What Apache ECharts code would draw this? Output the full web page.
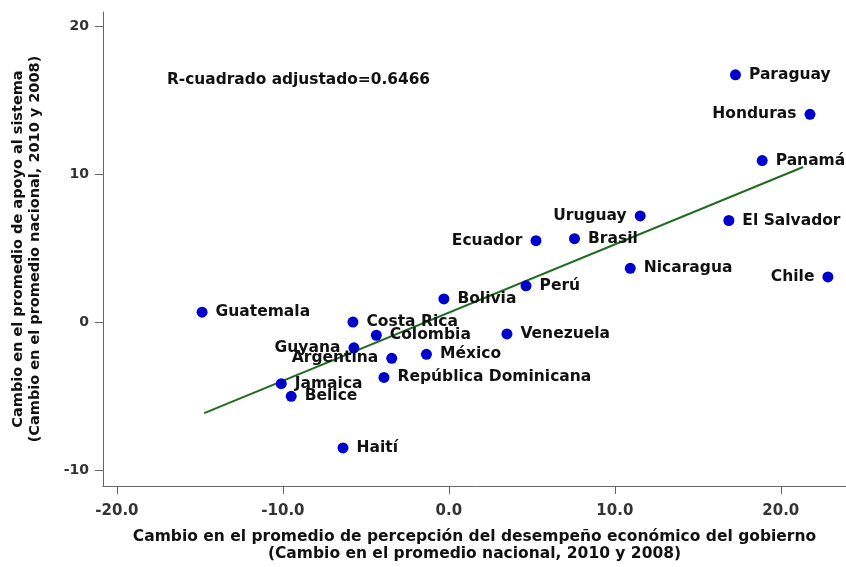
<!DOCTYPE html>
<html>
<head>
<meta charset="utf-8">
<script src="https://cdn.jsdelivr.net/npm/echarts@6/dist/echarts.min.js"></script>
<style>
html,body{margin:0;padding:0;background:#fff;}
#chart{width:846px;height:567px;}
</style>
</head>
<body>
<div id="chart"></div>
<script>
// ---- data ----
const countries = ['Paraguay','Honduras','Panamá','Uruguay','El Salvador','Ecuador','Brasil','Nicaragua','Chile','Perú','Bolivia','Venezuela','Guatemala','Costa Rica','Colombia','Guyana','México','Argentina','República Dominicana','Jamaica','Belice','Haití'];
const econChange = [17.27, 21.76, 18.88, 11.53, 16.87, 5.25, 7.57, 10.93, 22.84, 4.65, -0.30, 3.50, -14.87, -5.78, -4.37, -5.72, -1.35, -3.44, -3.91, -10.10, -9.50, -6.38];
const supportChange = [16.70, 14.03, 10.91, 7.17, 6.86, 5.50, 5.63, 3.63, 3.05, 2.45, 1.56, -0.80, 0.67, 0.00, -0.89, -1.74, -2.18, -2.45, -3.74, -4.16, -5.01, -8.50];
const fitX = [-14.74, 21.35];
const fitY = [-6.15, 10.47];
const xTicks = [-20, -10, 0, 10, 20];
const yTicks = [-10, 0, 10, 20];
const rSquaredLabel = 'R-cuadrado adjustado=0.6466';
const xTitle = 'Cambio en el promedio de percepción del desempeño económico del gobierno\n(Cambio en el promedio nacional, 2010 y 2008)';
const yTitle = 'Cambio en el promedio de apoyo al sistema\n(Cambio en el promedio nacional, 2010 y 2008)';

// ---- label placement (style config) ----
const leftLabels = ['Honduras','Uruguay','Ecuador','Chile','Guyana','Argentina'];

const FONT = 'DejaVu Sans';
const chart = echarts.init(document.getElementById('chart'), null, {renderer:'canvas'});

const scatterData = countries.map((n, i) => {
  const item = { value: [econChange[i], supportChange[i]], name: n };
  if (leftLabels.includes(n)) item.label = { position: 'left' };
  return item;
});

const axisCol = '#666';
chart.setOption({
  backgroundColor: '#fff',
  animation: false,
  grid: { left: 103, right: 0, top: 12, bottom: 76, containLabel: false },
  xAxis: {
    type: 'value', min: -20.84, max: 23.93,
    splitLine: { show: false },
    axisLine: { show: true, onZero: false, lineStyle: { color: axisCol, width: 1 } },
    axisTick: { show: true, length: 8, customValues: xTicks, lineStyle: { color: axisCol } },
    axisLabel: { customValues: xTicks, margin: 18, color: '#333', fontFamily: FONT, fontWeight: 'bold', fontSize: 15,
      formatter: v => v.toFixed(1) },
    name: xTitle, nameLocation: 'middle', nameGap: 42,
    nameTextStyle: { color: '#111', fontFamily: FONT, fontWeight: 'bold', fontSize: 15.5, lineHeight: 17 }
  },
  yAxis: {
    type: 'value', min: -11.07, max: 20.94,
    splitLine: { show: false },
    axisLine: { show: true, onZero: false, lineStyle: { color: axisCol, width: 1 } },
    axisTick: { show: true, length: 8, customValues: yTicks, lineStyle: { color: axisCol } },
    axisLabel: { customValues: yTicks, margin: 14, color: '#333', fontFamily: FONT, fontWeight: 'bold', fontSize: 14 },
    name: yTitle, nameLocation: 'middle', nameRotate: 90, nameGap: 59,
    nameTextStyle: { color: '#111', fontFamily: FONT, fontWeight: 'bold', fontSize: 14.5, lineHeight: 17 }
  },
  graphic: [{
    type: 'text', left: 167, top: 72,
    style: { text: rSquaredLabel, fill: '#111', font: 'bold 15.4px "DejaVu Sans"' }
  }],
  series: [
    {
      type: 'line', data: fitX.map((x, i) => [x, fitY[i]]), symbol: 'none',
      lineStyle: { color: '#1f6b1f', width: 2 }, z: 2, silent: true
    },
    {
      type: 'scatter', data: scatterData, symbol: 'circle', symbolSize: 11,
      itemStyle: { color: '#0000cc', opacity: 1 }, z: 3,
      label: { show: true, position: 'right', distance: 8, offset: [0, 2], formatter: p => p.name,
        color: '#111', fontFamily: FONT, fontWeight: 'bold', fontSize: 15.5 },
      labelLayout: { hideOverlap: false }
    }
  ]
});
</script>
</body>
</html>
